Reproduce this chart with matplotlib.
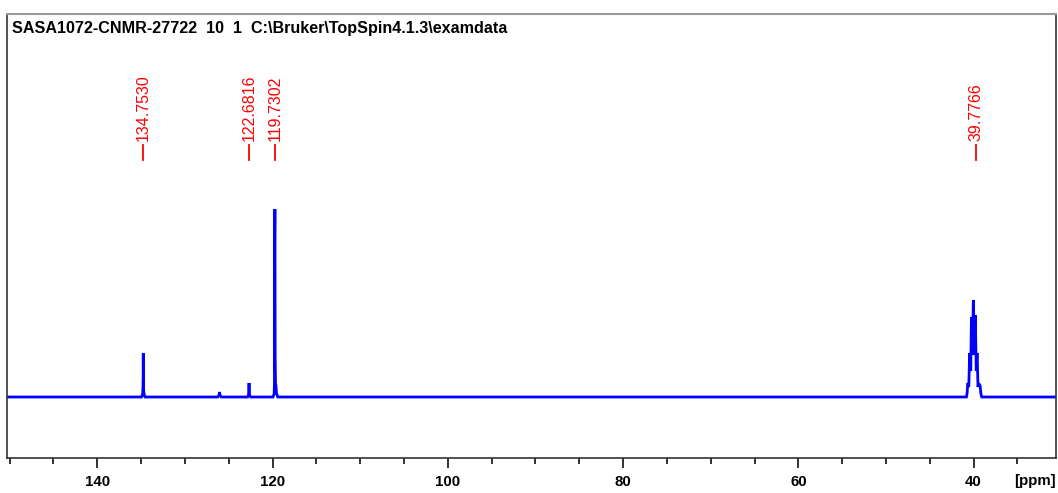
import numpy as np
import matplotlib
matplotlib.use("Agg")
import matplotlib.pyplot as plt
from matplotlib.ticker import MultipleLocator

plt.rcParams['font.family'] = ['Liberation Sans', 'DejaVu Sans']

title = r"SASA1072-CNMR-27722  10  1  C:\Bruker\TopSpin4.1.3\examdata"

# Peak picking labels (ppm)
peak_labels = [134.7530, 122.6816, 119.7302, 39.7766]

# Spectrum pieces: (ppm, intensity) points
peak_134_ppm = [134.95, 134.82, 134.78, 134.76, 134.75, 134.74, 134.72, 134.66, 134.55]
peak_134_int = [0, 3, 10, 23, 44, 30, 8, 3, 0]

bump_126_ppm = [126.25, 126.10, 126.05, 126.00, 125.85]
bump_126_int = [0, 2, 5, 2, 0]

peak_122_ppm = [122.85, 122.74, 122.70, 122.68, 122.66, 122.62, 122.50]
peak_122_int = [0, 2, 9, 14, 8, 2, 0]

peak_119_ppm = [119.95, 119.82, 119.78, 119.76, 119.74, 119.73, 119.72, 119.70, 119.66, 119.62, 119.55, 119.40]
peak_119_int = [0, 3, 12, 158, 175, 188, 160, 40, 13, 12, 4, 0]

dmso_ppm = [40.82, 40.74, 40.68, 40.65, 40.55, 40.46, 40.44, 40.33, 40.25, 40.23,
            40.12, 40.04, 40.02, 39.91, 39.83, 39.81, 39.70, 39.62, 39.60, 39.50,
            39.41, 39.39, 39.25, 39.18, 39.08]
dmso_int = [0, 4, 12, 14, 10, 42, 44, 26, 78, 80,
            42, 95, 97, 42, 80, 82, 26, 43, 44, 10,
            14, 13, 11, 4, 0]

x_start, x_end = 150.3, 30.6
pieces = [(peak_134_ppm, peak_134_int), (bump_126_ppm, bump_126_int),
          (peak_122_ppm, peak_122_int), (peak_119_ppm, peak_119_int),
          (dmso_ppm, dmso_int)]
ppm = [x_start]
inten = [0]
for p, v in pieces:
    ppm += p
    inten += v
ppm += [x_end]
inten += [0]

fig = plt.figure(figsize=(10.58, 4.93), dpi=100)
W, H = 1058, 493
ax = fig.add_axes([7 / W, 35 / H, (1056 - 7) / W, (479 - 35) / H])
ax.plot(ppm, inten, color='#0000ff', lw=2.0, solid_joinstyle='miter')
ax.set_xlim(x_start, x_end)
ax.set_ylim(-61, 383)

# spines
for side in ['left', 'right', 'bottom']:
    ax.spines[side].set_color('#333333')
    ax.spines[side].set_linewidth(1.2)
ax.spines['top'].set_color('#9a9a9a')
ax.spines['top'].set_linewidth(1.5)

ax.yaxis.set_visible(False)
ax.xaxis.set_major_locator(MultipleLocator(20))
ax.xaxis.set_minor_locator(MultipleLocator(5))
ax.tick_params(axis='x', which='major', direction='out', length=7, width=1.3,
               color='#222222', pad=5)
ax.tick_params(axis='x', which='minor', direction='out', length=4, width=1.3,
               color='#222222')
ax.set_xticks([140, 120, 100, 80, 60, 40])
ax.set_xticklabels(['140', '120', '100', '80', '60', '40'], fontweight='bold',
                   fontsize=10.8)

fig.text(1035 / W, 1 - 481 / H, '[ppm]', ha='center', va='center',
         fontsize=10.8, fontweight='bold')

fig.text(12 / W, 1 - 29 / H, title, ha='left', va='center', fontsize=11.6,
         fontweight='bold')

# peak labels
for p in peak_labels:
    ax.plot([p, p], [397 - 160, 397 - 145], color='#ff0000', lw=1.3)
    ax.text(p, 397 - 141, f"{p:.4f}", rotation=90, ha='center', va='bottom',
            color='#ff0000', fontsize=11.5)

fig.savefig('out.png', dpi=100)
